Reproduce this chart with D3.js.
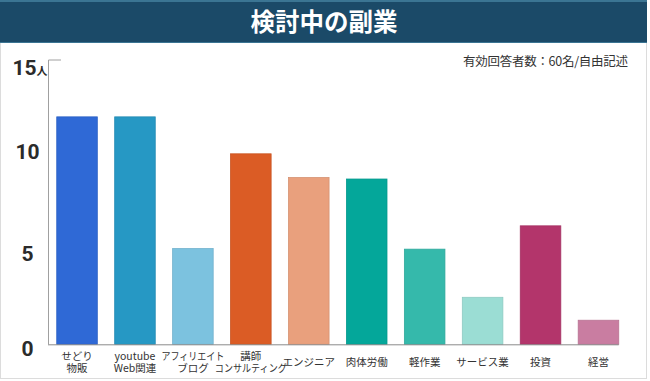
<!DOCTYPE html>
<html>
<head>
<meta charset="utf-8">
<script src="https://cdn.jsdelivr.net/npm/d3@7"></script>
<style>
  body { margin: 0; background: #fff; }
  svg { display: block; }
</style>
</head>
<body>
<svg id="chart" width="650" height="381"></svg>
<script>
// data
var categories = ["せどり\n物販", "youtube\nWeb関連", "アフィリエイト\nブログ", "講師\nコンサルティング", "エンジニア",
                  "肉体労働", "軽作業", "サービス業", "投資", "経営"];
var counts = [12, 12, 5.05, 10.05, 8.8, 8.72, 5.02, 2.48, 6.25, 1.27];
var barColors = ["#2f69d6", "#2698c4", "#7cc2df", "#db5c25", "#e9a07d",
                 "#04a79a", "#35b9ab", "#9bddd4", "#b3356b", "#c97da1"];
var yTicks = [0, 5, 10, 15];
var title = "検討中の副業";
var note = "有効回答者数：60名/自由記述";

var jp = "'Noto Sans CJK JP', 'Noto Sans', sans-serif";
var svg = d3.select("#chart");

// card + header
svg.append("rect").attr("x", 0.5).attr("y", 0.5).attr("width", 646).attr("height", 378)
  .attr("fill", "#fff").attr("stroke", "#dcdcdc");
svg.append("rect").attr("x", 0).attr("y", 0).attr("width", 647).attr("height", 43).attr("fill", "#3b7593");
svg.append("rect").attr("x", 0).attr("y", 2).attr("width", 647).attr("height", 40).attr("fill", "#1b4a68");
svg.append("text").attr("x", 324).attr("y", 31).attr("text-anchor", "middle")
  .style("font-family", jp).style("font-weight", "bold").style("font-size", "24.5px")
  .attr("fill", "#fff").text(title);

svg.append("text").attr("x", 628).attr("y", 65.5).attr("text-anchor", "end")
  .style("font-family", jp).style("font-size", "12.5px").attr("fill", "#333")
  .attr("textLength", 165).text(note);

var x = d3.scaleBand().domain(categories).range([48, 627.5]).paddingInner(0.3).paddingOuter(0.151);
var y = d3.scaleLinear().domain([0, 15]).range([344.3, 60]);

// bars
svg.append("g").selectAll("rect").data(counts).join("rect")
  .attr("x", function(d, i) { return x(categories[i]); })
  .attr("y", function(d) { return y(d); })
  .attr("width", x.bandwidth())
  .attr("height", function(d) { return y(0) - y(d); })
  .attr("fill", function(d, i) { return barColors[i]; })
  .attr("stroke", function(d, i) { return d3.color(barColors[i]).darker(0.25); })
  .attr("stroke-width", 0.8);

// y axis line + top tick
svg.append("path").attr("d", "M61," + y(15) + "H48.5V" + y(0))
  .attr("fill", "none").attr("stroke", "#a0a0a0").attr("stroke-width", 1);
// baseline
svg.append("line").attr("x1", 48).attr("x2", x.range()[1] - 8.8)
  .attr("y1", y(0) + 0.5).attr("y2", y(0) + 0.5).attr("stroke", "#8a8a8a").attr("stroke-width", 1);

// y labels (the original nudges them a little off the tick)
var nudge = { 0: 4, 5: 4.5, 10: -3 };
var yl = svg.append("g").style("font-family", "Roboto, 'Liberation Sans', sans-serif")
  .style("font-weight", "bold").attr("fill", "#2b2b2b");
yl.selectAll("text.tick").data(yTicks.filter(function(t) { return t < 15; })).join("text")
  .attr("class", "tick")
  .attr("x", 27.5).attr("y", function(d) { return y(d) + nudge[d]; })
  .attr("dy", "0.35em").attr("text-anchor", "middle").style("font-size", "21px")
  .text(function(d) { return d; });
var topLabel = yl.append("text").attr("x", 12.5).attr("y", y(15) + 8).attr("dy", "0.35em").style("font-size", "21px");
topLabel.append("tspan").text(yTicks[3]);
topLabel.append("tspan").style("font-size", "11px").style("font-family", jp).text("人");

// category labels
var cl = svg.append("g").style("font-family", jp).style("font-size", "10.5px").attr("fill", "#333");
categories.forEach(function(c) {
  var lines = c.split("\n");
  var cx = x(c) + x.bandwidth() / 2;
  var t = cl.append("text").attr("text-anchor", "middle");
  lines.forEach(function(l, j) {
    var yy = lines.length === 1 ? 366 : 359.5 + j * 12;
    var ts = t.append("tspan").attr("x", cx).attr("y", yy).text(l);
    // long katakana words are set narrow in the original
    if (l.length >= 7 && /[\u30a0-\u30ff]/.test(l)) ts.attr("textLength", l.length * 9).attr("lengthAdjust", "spacingAndGlyphs");
  });
});
</script>
</body>
</html>
